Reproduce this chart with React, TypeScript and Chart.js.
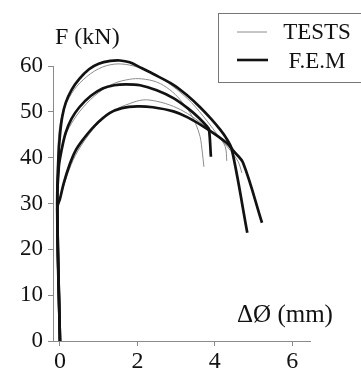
import React, { useEffect, useRef } from "react";
import { Chart, registerables } from "chart.js";

Chart.register(...registerables);

// ---- data ----
const X_TICKS = [0, 2, 4, 6];
const Y_TICKS = [0, 10, 20, 30, 40, 50, 60];
const X_MIN = -0.18;
const X_MAX = 6.46;
const Y_MIN = 0;
const Y_MAX = 60;
const Y_TITLE = "F (kN)";
const X_TITLE = "ΔØ (mm)";
const LEGEND_LABELS = ["TESTS", "F.E.M"];

// F.E.M curves (thick)
const FEM_HIGH: [number, number][] = [
  [0, 0], [-0.07, 30], [-0.04, 40], [0.0, 45], [0.06, 49], [0.15, 52], [0.3, 54.8],
  [0.5, 57.2], [0.75, 59.3], [1.0, 60.5], [1.3, 61.1], [1.55, 61.2], [1.8, 60.8],
  [2.07, 59.7], [2.4, 58.3], [2.93, 55.9], [3.3, 53.5], [3.62, 51.0], [3.9, 48.5],
  [4.14, 46.1], [4.3, 44.2], [4.44, 41.8], [4.84, 23.6],
];
const FEM_MID: [number, number][] = [
  [0, 0], [-0.07, 30], [-0.03, 38], [0.05, 42], [0.15, 45.5], [0.3, 48.5], [0.5, 51],
  [0.8, 53.5], [1.1, 55.1], [1.4, 55.8], [1.7, 56.0], [2.07, 55.8], [2.5, 54.7],
  [2.93, 53.0], [3.3, 50.8], [3.6, 48.6], [3.8, 46.8], [3.85, 46.2], [3.9, 40.2],
];
const FEM_LOW: [number, number][] = [
  [0, 0], [-0.07, 29], [0.0, 31], [0.1, 34.5], [0.25, 38.5], [0.4, 41.5], [0.6, 44],
  [0.9, 47], [1.28, 49.7], [1.6, 50.8], [2.0, 51.2], [2.4, 51.0], [2.93, 50.1],
  [3.3, 48.8], [3.8, 46.3], [4.31, 43.2], [4.5, 41.3], [4.73, 38.9], [5.22, 25.8],
];

// Test curves (thin)
const TEST_A: [number, number][] = [
  [0, 0], [-0.08, 30], [-0.06, 40], [-0.02, 46], [0.08, 50], [0.3, 54], [0.6, 57],
  [1.0, 59.4], [1.4, 60.4], [1.8, 60.2], [2.2, 59.1], [2.6, 57.4], [3.0, 55.0],
  [3.4, 52.0], [3.8, 48.0], [4.1, 44.6], [4.27, 42.4], [4.31, 39.3],
];
const TEST_B: [number, number][] = [
  [0, 0], [-0.07, 30], [0.0, 40], [0.1, 44], [0.3, 47.5], [0.6, 51], [1.0, 54.2],
  [1.4, 56.2], [1.8, 57.1], [2.1, 57.2], [2.5, 56.5], [2.84, 54.8], [3.1, 52.7],
  [3.36, 49.8], [3.5, 47.5], [3.62, 44.6], [3.68, 41.0], [3.72, 38.0],
];
const TEST_C: [number, number][] = [
  [0, 0], [-0.06, 29], [0.05, 32.5], [0.2, 36.5], [0.4, 40.5], [0.7, 44.5], [1.0, 47.5],
  [1.4, 50.3], [1.8, 51.8], [2.15, 52.6], [2.5, 52.3], [2.93, 51.2], [3.3, 49.6],
  [3.7, 47.2], [4.1, 44.4], [4.4, 41.6], [4.6, 39.2], [4.7, 36.7],
];

const FEM_SERIES = [FEM_HIGH, FEM_MID, FEM_LOW];
const TEST_SERIES = [TEST_A, TEST_B, TEST_C];

const INK = "#121212";
const THIN = "#8c8c8c";
const AXIS = "#8a8a8a";
const SERIF = "'Liberation Serif', 'Times New Roman', serif";

const overlayPlugin = {
  id: "overlay",
  afterDraw(chart: any) {
    const ctx = chart.ctx as CanvasRenderingContext2D;
    const area = chart.chartArea;
    ctx.save();
    // axis titles
    ctx.fillStyle = INK;
    ctx.textBaseline = "alphabetic";
    ctx.textAlign = "left";
    ctx.font = `24px ${SERIF}`;
    ctx.fillText(Y_TITLE, area.left + 2, area.top - 22);
    ctx.font = `25px ${SERIF}`;
    ctx.fillText(X_TITLE, area.left + 184, area.bottom - 19);

    // legend
    const bx = 218.5, by = 13.5, bw = 160, bh = 69;
    ctx.strokeStyle = "#777";
    ctx.lineWidth = 1;
    ctx.strokeRect(bx, by, bw, bh);

    ctx.beginPath();
    ctx.strokeStyle = THIN;
    ctx.lineWidth = 1;
    ctx.moveTo(237, 32);
    ctx.lineTo(267, 32);
    ctx.stroke();

    ctx.beginPath();
    ctx.strokeStyle = INK;
    ctx.lineWidth = 2.6;
    ctx.moveTo(237, 60);
    ctx.lineTo(268, 60);
    ctx.stroke();

    ctx.fillStyle = INK;
    ctx.textAlign = "center";
    ctx.font = `23px ${SERIF}`;
    ctx.fillText(LEGEND_LABELS[0], 317, 38.5);
    ctx.fillText(LEGEND_LABELS[1], 317, 68);
    ctx.restore();
  },
};

export default function App() {
  const canvasRef = useRef<HTMLCanvasElement | null>(null);

  useEffect(() => {
    const canvas = canvasRef.current;
    if (!canvas) return;

    const toPts = (s: [number, number][]) => s.map(([x, y]) => ({ x, y }));

    const datasets: any[] = [
      ...FEM_SERIES.map((s, i) => ({
        label: i === 0 ? LEGEND_LABELS[1] : `${LEGEND_LABELS[1]} ${i + 1}`,
        data: toPts(s),
        borderColor: INK,
        borderWidth: 2.7,
        pointRadius: 0,
        tension: 0.35,
        fill: false,
        clip: false,
        order: 0,
      })),
      ...TEST_SERIES.map((s, i) => ({
        label: i === 0 ? LEGEND_LABELS[0] : `${LEGEND_LABELS[0]} ${i + 1}`,
        data: toPts(s),
        borderColor: THIN,
        borderWidth: 1,
        pointRadius: 0,
        tension: 0.35,
        fill: false,
        clip: false,
        order: 1,
      })),
    ];

    const chart = new Chart(canvas, {
      type: "line",
      data: { datasets },
      plugins: [overlayPlugin],
      options: {
        animation: false,
        responsive: false,
        layout: { padding: { top: 66, right: 51, left: 0, bottom: 0 } },
        plugins: { legend: { display: false }, tooltip: { enabled: false } },
        scales: {
          x: {
            type: "linear",
            min: X_MIN,
            max: X_MAX,
            afterBuildTicks: (s: any) => {
              s.ticks = X_TICKS.map((v) => ({ value: v }));
            },
            afterFit: (s: any) => {
              s.height = 43;
            },
            grid: { drawOnChartArea: false, drawTicks: true, tickLength: 5, color: AXIS },
            border: { display: true, color: AXIS, width: 1 },
            ticks: { color: INK, padding: 1, maxRotation: 0, font: { family: SERIF, size: 24 } },
          },
          y: {
            type: "linear",
            min: Y_MIN,
            max: Y_MAX,
            afterBuildTicks: (s: any) => {
              s.ticks = Y_TICKS.map((v) => ({ value: v }));
            },
            afterFit: (s: any) => {
              s.width = 53;
            },
            grid: { drawOnChartArea: false, drawTicks: true, tickLength: 5, color: AXIS },
            border: { display: true, color: AXIS, width: 1 },
            ticks: { color: INK, padding: 5, font: { family: SERIF, size: 23 } },
          },
        },
      },
    });

    return () => chart.destroy();
  }, []);

  return (
    <div style={{ position: "absolute", left: 0, top: 0, width: 361, height: 384, background: "#fff" }}>
      <canvas ref={canvasRef} width={361} height={384} style={{ display: "block" }} />
    </div>
  );
}
